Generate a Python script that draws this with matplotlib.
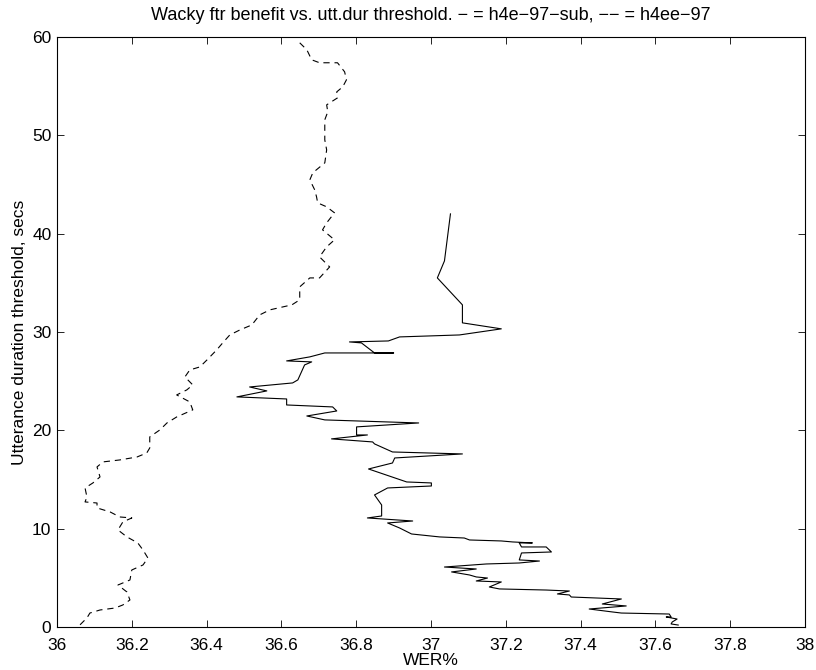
import matplotlib
matplotlib.use("Agg")
import matplotlib.pyplot as plt

# solid line: h4e-97-sub  (WER%, threshold secs)
solid_wer = [37.052, 37.036, 37.017, 37.084, 37.084, 37.188, 37.076, 36.996, 36.916, 36.886,
             36.782, 36.814, 36.849, 36.900, 36.716, 36.676, 36.614, 36.681, 36.662, 36.644,
             36.630, 36.515, 36.561, 36.481, 36.614, 36.614, 36.737, 36.748, 36.668, 36.716,
             36.967, 36.801, 36.801, 36.830, 36.734, 36.844, 36.849, 36.897, 37.084, 36.903,
             36.897, 36.833, 36.935, 37.001, 37.001, 36.884, 36.849, 36.868, 36.868, 36.830,
             36.951, 36.884, 36.916, 36.948, 37.023, 37.089, 37.103, 37.188, 37.218, 37.271,
             37.236, 37.242, 37.308, 37.322, 37.242, 37.236, 37.290, 37.236, 37.148, 37.036,
             37.121, 37.055, 37.103, 37.121, 37.151, 37.121, 37.188, 37.156, 37.183, 37.308,
             37.370, 37.338, 37.370, 37.375, 37.509, 37.458, 37.522, 37.423, 37.485, 37.509,
             37.637, 37.642, 37.629, 37.658, 37.645, 37.642, 37.661]
solid_thr = [42.01, 37.23, 35.50, 32.76, 30.93, 30.32, 29.70, 29.60, 29.50, 29.09,
             28.99, 28.89, 27.87, 27.87, 27.87, 27.47, 27.06, 26.96, 26.65, 25.13,
             24.82, 24.41, 24.01, 23.40, 23.19, 22.58, 22.38, 21.97, 21.46, 21.06,
             20.75, 20.35, 19.53, 19.53, 19.13, 18.82, 18.62, 17.80, 17.60, 17.19,
             16.68, 16.07, 14.75, 14.65, 14.34, 14.14, 13.43, 12.41, 11.29, 11.09,
             10.78, 10.58, 10.07, 9.46, 9.16, 9.05, 8.85, 8.75, 8.65, 8.55,
             8.55, 8.14, 8.14, 7.63, 7.53, 6.82, 6.71, 6.51, 6.41, 6.10,
             5.90, 5.60, 5.29, 5.09, 4.98, 4.68, 4.58, 4.07, 3.87, 3.76,
             3.66, 3.36, 3.26, 3.05, 2.85, 2.34, 2.14, 1.83, 1.53, 1.42,
             1.32, 1.02, 1.02, 0.81, 0.51, 0.31, 0.20]

# dashed line: h4ee-97
dash_wer = [36.649, 36.668, 36.681, 36.702, 36.750, 36.769, 36.774, 36.764, 36.748, 36.750,
            36.721, 36.724, 36.716, 36.716, 36.716, 36.721, 36.716, 36.684, 36.676, 36.689,
            36.694, 36.697, 36.721, 36.742, 36.721, 36.710, 36.742, 36.721, 36.702, 36.729,
            36.702, 36.676, 36.649, 36.649, 36.628, 36.569, 36.542, 36.521, 36.489, 36.462,
            36.443, 36.427, 36.401, 36.382, 36.355, 36.342, 36.363, 36.347, 36.320, 36.355,
            36.363, 36.320, 36.294, 36.275, 36.248, 36.248, 36.240, 36.214, 36.168, 36.123,
            36.107, 36.115, 36.096, 36.075, 36.080, 36.075, 36.107, 36.107, 36.142, 36.168,
            36.200, 36.176, 36.163, 36.187, 36.216, 36.230, 36.243, 36.230, 36.200, 36.195,
            36.163, 36.187, 36.195, 36.176, 36.155, 36.115, 36.088, 36.080, 36.061]
dash_thr = [59.41, 58.70, 57.68, 57.38, 57.38, 56.46, 55.65, 54.93, 54.42, 53.81,
            53.10, 52.39, 51.58, 50.56, 49.54, 48.52, 47.20, 46.19, 45.47, 44.46,
            43.74, 43.13, 42.73, 42.12, 41.10, 40.39, 39.37, 38.66, 37.64, 36.62,
            35.50, 35.50, 34.59, 33.27, 32.76, 32.25, 31.74, 30.72, 30.21, 29.70,
            28.89, 28.18, 27.16, 26.45, 26.14, 25.43, 24.62, 24.11, 23.60, 22.89,
            22.08, 21.36, 20.75, 20.04, 19.33, 18.21, 17.70, 17.29, 16.99, 16.79,
            16.28, 15.26, 14.65, 14.14, 13.22, 12.72, 12.61, 12.11, 11.70, 11.19,
            11.09, 10.68, 9.87, 9.16, 8.55, 7.83, 7.02, 6.31, 5.80, 4.78,
            4.27, 3.56, 2.75, 2.24, 1.93, 1.73, 1.42, 0.92, 0.20]

x_ticks = [36, 36.2, 36.4, 36.6, 36.8, 37, 37.2, 37.4, 37.6, 37.8, 38]
x_tick_labels = ["36", "36.2", "36.4", "36.6", "36.8", "37", "37.2", "37.4", "37.6", "37.8", "38"]
y_ticks = [0, 10, 20, 30, 40, 50, 60]

plt.rcParams['font.family'] = ['Liberation Sans', 'DejaVu Sans']
plt.rcParams['lines.scale_dashes'] = False

fig = plt.figure(figsize=(8.16, 6.70), dpi=100)
ax = fig.add_axes([57/816, 43/670, 748/816, 590/670])

ax.plot(solid_wer, solid_thr, color='black', lw=0.8)
ax.plot(dash_wer, dash_thr, color='black', lw=0.8, dashes=(4.5, 3.5))

ax.set_xlim(36, 38)
ax.set_ylim(0, 60)
ax.set_xticks(x_ticks)
ax.set_xticklabels(x_tick_labels)
ax.set_yticks(y_ticks)
ax.tick_params(direction='in', top=True, right=True, length=5, width=0.6,
               labelsize=12.5)
ax.tick_params(axis='x', pad=8)
ax.tick_params(axis='y', pad=4)
for s in ax.spines.values():
    s.set_linewidth(0.8)

ax.set_xlabel("WER%", fontsize=12.5, labelpad=0)
ax.set_ylabel("Utterance duration threshold, secs", fontsize=12.5, labelpad=4)
ax.set_title("Wacky ftr benefit vs. utt.dur threshold. \u2212 = h4e\u221297\u2212sub, \u2212\u2212 = h4ee\u221297",
             fontsize=13, pad=12)

fig.savefig("out.png", dpi=100)
